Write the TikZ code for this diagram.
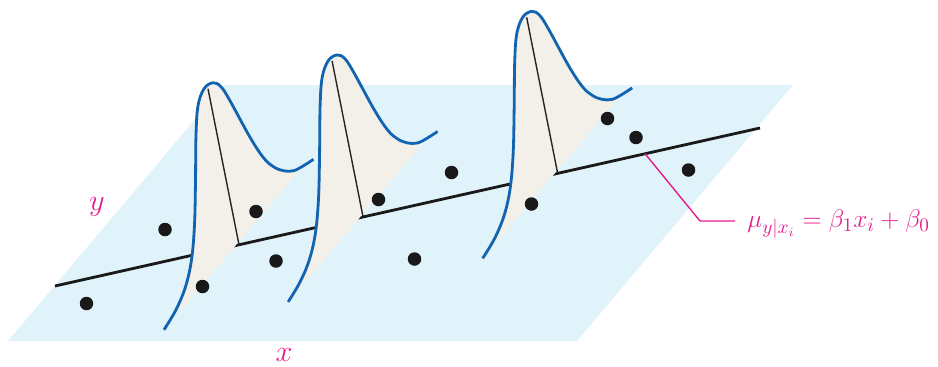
\documentclass[tikz,border=0pt]{standalone}
\usepackage{amsmath}
\usepackage{xcolor}
\usepackage{tikz}
\usetikzlibrary{calc}

\definecolor{planeblue}{RGB}{224,243,251}
\definecolor{bellfill}{RGB}{243,240,234}
\definecolor{bellblue}{RGB}{18,100,176}
\definecolor{notepink}{RGB}{226,30,140}

\begin{document}
\begin{tikzpicture}[
        plane/.style={fill=planeblue, draw=none},
        regline/.style={line width=1.6pt, draw=black!90},
        dot/.style={circle, fill=black!90, inner sep=0pt, minimum size=0.27cm},
        annot/.style={draw=notepink, line width=0.8pt},
        pinklabel/.style={text=notepink, font=\fontsize{15}{18}\selectfont, inner sep=0pt},
        axislabel/.style={text=notepink, font=\fontsize{17}{20}\selectfont, inner sep=0pt},
        density/.pic={
            \fill[bellfill] plot[smooth, tension=0.6] coordinates {(-1.50,-1.70) (-1.26,-1.30) (-1.07,-0.84) (-0.95,-0.30) (-0.89,0.40) (-0.87,1.30) (-0.86,2.20) (-0.82,2.78) (-0.70,3.12) (-0.52,3.24) (-0.36,3.16) (-0.18,2.88) (0.22,2.15) (0.49,1.74) (0.69,1.56) (0.89,1.48) (1.09,1.48) (1.27,1.56)} -- cycle;
            \draw[black!85, line width=0.8pt] (0,0) -- (-0.62,3.12);
            \draw[bellblue, line width=1.6pt] plot[smooth, tension=0.6] coordinates {(-1.50,-1.70) (-1.26,-1.30) (-1.07,-0.84) (-0.95,-0.30) (-0.89,0.40) (-0.87,1.30) (-0.86,2.20) (-0.82,2.78) (-0.70,3.12) (-0.52,3.24) (-0.36,3.16) (-0.18,2.88) (0.22,2.15) (0.49,1.74) (0.69,1.56) (0.89,1.48) (1.09,1.48) (1.29,1.58) (1.49,1.71)};
        }
    ]

        \useasboundingbox (0,0) rectangle (18.76,7.32);

        \fill[plane] (0.16,0.50) -- (11.54,0.50) -- (15.86,5.62) -- (4.48,5.62) -- cycle;

        \coordinate (lnstart) at (1.10,1.60);
        \coordinate (lnend) at (15.20,4.76);
        \draw[regline] (lnstart) -- (lnend);

        \coordinate (m1) at ($(lnstart)!0.261!(lnend)$);
        \coordinate (m2) at ($(lnstart)!0.437!(lnend)$);
        \coordinate (m3) at ($(lnstart)!0.713!(lnend)$);

        \pic at (m1) {density};
        \pic at (m2) {density};
        \pic at (m3) {density};

        \node[dot] (d1) at (1.73,1.25) {};
        \node[dot] (d2) at (3.30,2.73) {};
        \node[dot] (d3) at (4.05,1.59) {};
        \node[dot] (d4) at (5.12,3.09) {};
        \node[dot] (d5) at (5.52,2.10) {};
        \node[dot] (d6) at (7.57,3.33) {};
        \node[dot] (d7) at (9.03,3.87) {};
        \node[dot] (d8) at (8.29,2.14) {};
        \node[dot] (d9) at (10.63,3.24) {};
        \node[dot] (d10) at (12.15,4.95) {};
        \node[dot] (d11) at (12.72,4.57) {};
        \node[dot] (d12) at (13.77,3.92) {};

        \node[axislabel] (ylab) at (1.94,3.18) {$y$};
        \node[axislabel] (xlab) at (5.68,0.22) {$x$};

        \coordinate (onl) at ($(lnstart)!0.837!(lnend)$);
        \coordinate (kink) at (14.00,2.90);
        \node[pinklabel, anchor=base west] (formula) at (14.94,2.765) {$\mu_{y|x_i} = \beta_1 x_i + \beta_0$};
        \draw[annot] (onl) -- (kink) -- ([xshift=-0.24cm]formula.west |- kink);

    \end{tikzpicture}
\end{document}
